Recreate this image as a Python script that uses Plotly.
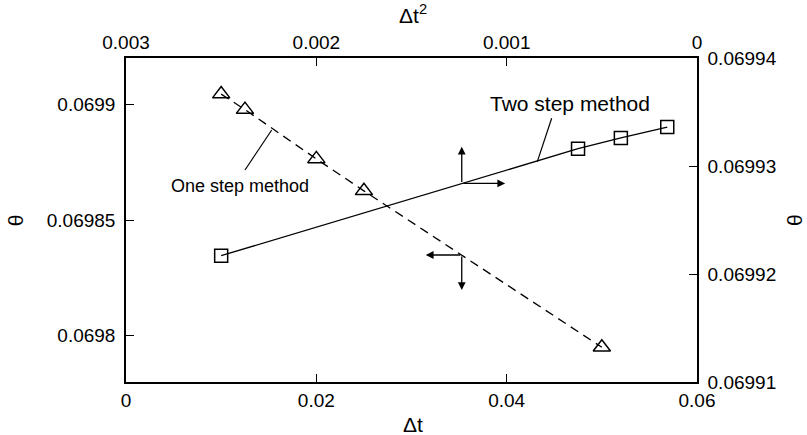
import plotly.graph_objects as go

# One step method (bottom Δt axis, left θ axis)
dt_one = [0.01, 0.0125, 0.02, 0.025, 0.05]
theta_one = [0.0699044, 0.0698977, 0.0698764, 0.0698626, 0.069795]

# Two step method (top Δt² axis, right θ axis)
dt2_two = [0.0025, 0.000625, 0.0004, 0.00015625]
theta_two = [0.0699217, 0.0699316, 0.0699326, 0.0699336]

x_ticks = [0, 0.02, 0.04, 0.06]
x_ticktext = ["0", "0.02", "0.04", "0.06"]
y_ticks = [0.0698, 0.06985, 0.0699]
y_ticktext = ["0.0698", "0.06985", "0.0699"]
x2_ticks = [0.003, 0.002, 0.001, 0]
x2_ticktext = ["0.003", "0.002", "0.001", "0"]
y2_ticks = [0.06991, 0.06992, 0.06993, 0.06994]
y2_ticktext = ["0.06991", "0.06992", "0.06993", "0.06994"]

FONT = "Liberation Sans, Arial, Helvetica, sans-serif"
BLACK = "#000000"

fig = go.Figure()
fig.add_trace(go.Scatter(
    x=dt_one, y=theta_one, mode="lines+markers", xaxis="x", yaxis="y",
    line=dict(color=BLACK, width=1.3, dash="9px,6px"),
    marker=dict(symbol="triangle-up-open", size=15, color=BLACK,
                line=dict(color=BLACK, width=1.5)),
    showlegend=False))
fig.add_trace(go.Scatter(
    x=dt2_two, y=theta_two, mode="lines+markers", xaxis="x2", yaxis="y2",
    line=dict(color=BLACK, width=1.3),
    marker=dict(symbol="square-open", size=13, color=BLACK,
                line=dict(color=BLACK, width=1.5)),
    showlegend=False))

axis_common = dict(showgrid=False, zeroline=False, showline=True,
                   linecolor=BLACK, linewidth=1.5, ticks="inside",
                   ticklen=8, tickwidth=1.3, tickcolor=BLACK,
                   tickfont=dict(family=FONT, size=19, color=BLACK))

fig.update_layout(
    width=807, height=435,
    margin=dict(l=126, r=110, t=58, b=53),
    paper_bgcolor="white", plot_bgcolor="white",
    font=dict(family=FONT, color=BLACK),
    xaxis=dict(range=[0, 0.06], tickvals=x_ticks, ticktext=x_ticktext,
               anchor="y", side="bottom", **axis_common),
    yaxis=dict(range=[0.06978, 0.06992], tickvals=y_ticks, ticktext=y_ticktext,
               anchor="x", side="left", ticklabelstandoff=5, **axis_common),
    xaxis2=dict(range=[0.003, 0], tickvals=x2_ticks, ticktext=x2_ticktext,
                overlaying="x", anchor="y", side="top", **axis_common),
    yaxis2=dict(range=[0.06991, 0.06994], tickvals=y2_ticks, ticktext=y2_ticktext,
                overlaying="y", anchor="x", side="right", ticklabelstandoff=5,
                **axis_common),
)

# Axis titles
fig.add_annotation(text="Δt", xref="paper", yref="paper", x=0.502, y=-0.13,
                   showarrow=False, font=dict(size=21, family=FONT),
                   xanchor="center", yanchor="middle")
fig.add_annotation(text="Δt<sup>2</sup>", xref="paper", yref="paper", x=0.502, y=1.135,
                   showarrow=False, font=dict(size=21, family=FONT),
                   xanchor="center", yanchor="middle")
fig.add_annotation(text="θ", xref="paper", yref="paper", x=-0.194, y=0.5,
                   showarrow=False, textangle=-90, font=dict(size=21, family=FONT),
                   xanchor="center", yanchor="middle")
fig.add_annotation(text="θ", xref="paper", yref="paper", x=1.17, y=0.5,
                   showarrow=False, textangle=-90, font=dict(size=21, family=FONT),
                   xanchor="center", yanchor="middle")

# Method labels with leader lines
fig.add_annotation(text="Two step method", xref="paper", yref="paper", x=0.7776, y=0.861,
                   showarrow=False, font=dict(size=21, family=FONT),
                   xanchor="center", yanchor="middle")
fig.add_shape(type="line", xref="paper", yref="paper", x0=0.7455, y0=0.8139,
              x1=0.7203, y1=0.680, line=dict(color=BLACK, width=1.2))
fig.add_annotation(text="One step method", xref="paper", yref="paper", x=0.1996, y=0.606,
                   showarrow=False, font=dict(size=18, family=FONT),
                   xanchor="center", yanchor="middle")
fig.add_shape(type="line", xref="paper", yref="paper", x0=0.2084, y0=0.6543,
              x1=0.2552, y1=0.7778, line=dict(color=BLACK, width=1.2))

# Axis-indicator arrows (positions in plot-area fractions)
def arrow(x0, y0, x1, y1):
    fig.add_annotation(x=x1, y=y1, ax=x0, ay=y0, xref="x domain", yref="y domain",
                       axref="x domain", ayref="y domain", text="", showarrow=True,
                       arrowhead=2, arrowsize=1.2, arrowwidth=1.3, arrowcolor=BLACK)

arrow(0.588, 0.613, 0.588, 0.726)
arrow(0.588, 0.613, 0.664, 0.613)
arrow(0.588, 0.392, 0.525, 0.392)
arrow(0.588, 0.392, 0.588, 0.284)

fig.write_html("out.html", config={"displayModeBar": False},
               post_script="document.body.style.margin='0px';")
